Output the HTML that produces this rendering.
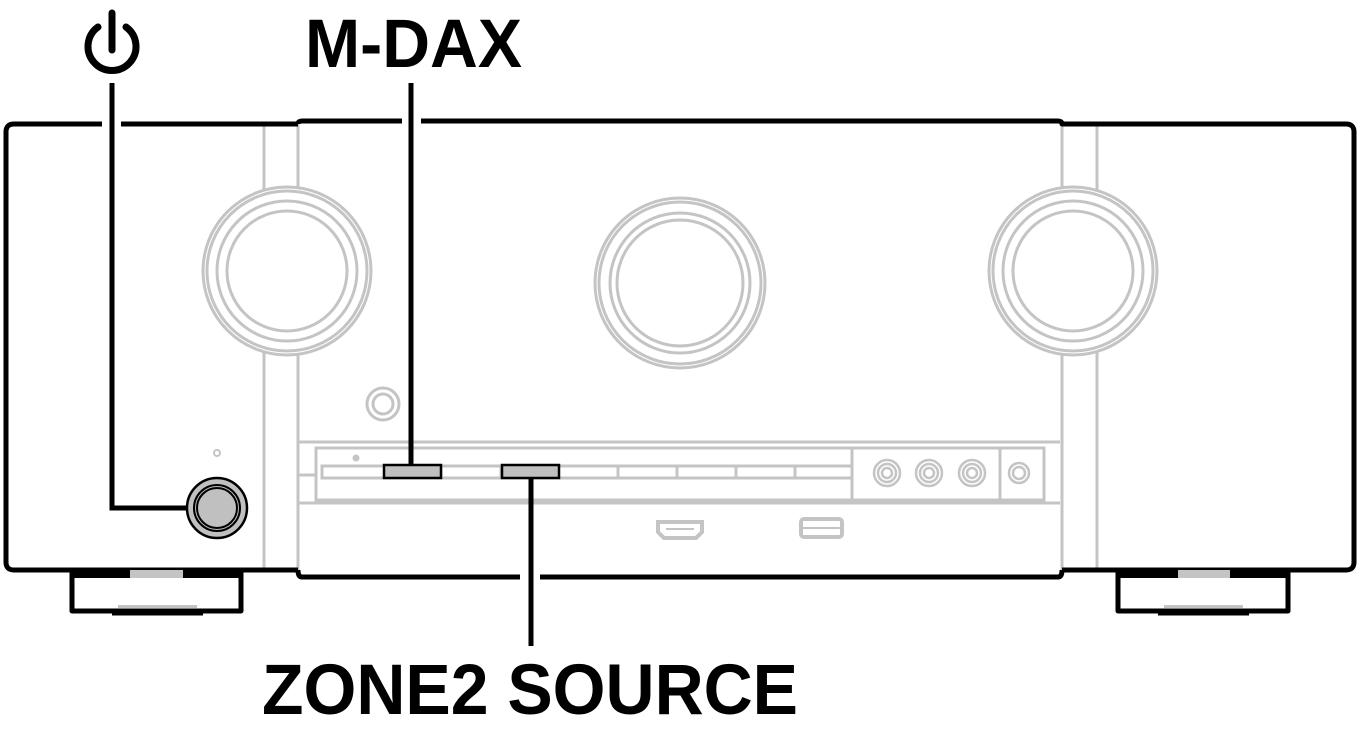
<!DOCTYPE html>
<html><head><meta charset="utf-8"><style>html,body{margin:0;padding:0;background:#fff;}svg{display:block;}</style></head>
<body>
<svg width="1360" height="754" viewBox="0 0 1360 754" xmlns="http://www.w3.org/2000/svg">
<g fill="none" stroke="#c4c4c4" stroke-width="3">
  <line x1="264" y1="124" x2="264" y2="570"/>
  <line x1="298" y1="124" x2="298" y2="570"/>
  <line x1="1062" y1="124" x2="1062" y2="570"/>
  <line x1="1097" y1="124" x2="1097" y2="570"/>
  <g fill="#fff">
  <circle cx="287" cy="271" r="84"/><circle cx="287" cy="271" r="80"/><circle cx="287" cy="271" r="70"/><circle cx="287" cy="271" r="60"/>
  <circle cx="680" cy="283" r="85"/><circle cx="680" cy="283" r="81"/><circle cx="680" cy="283" r="70"/><circle cx="680" cy="283" r="63"/>
  <circle cx="1073" cy="271" r="84"/><circle cx="1073" cy="271" r="80"/><circle cx="1073" cy="271" r="70"/><circle cx="1073" cy="271" r="60"/>
  </g>
  <circle cx="383" cy="404" r="16"/><circle cx="383" cy="404" r="10"/>
  <circle cx="217" cy="453" r="3" stroke-width="2"/>
  <line x1="298" y1="442" x2="1060" y2="442"/>
  <line x1="298" y1="503" x2="1060" y2="503"/>
  <rect x="316" y="448" width="728" height="52"/>
  <line x1="298" y1="475" x2="316" y2="475"/>
  <rect x="322" y="466" width="530" height="12"/>
  <line x1="852" y1="448" x2="852" y2="500"/>
  <line x1="1000" y1="448" x2="1000" y2="500"/>
  <line x1="441" y1="466" x2="441" y2="478"/><line x1="501" y1="466" x2="501" y2="478"/>
  <line x1="618" y1="466" x2="618" y2="478"/><line x1="677" y1="466" x2="677" y2="478"/>
  <line x1="736" y1="466" x2="736" y2="478"/><line x1="795" y1="466" x2="795" y2="478"/>
  <circle cx="356" cy="458" r="2" fill="#c4c4c4"/>
  <g stroke-width="2.5">
  <circle cx="887" cy="473" r="13"/><circle cx="887" cy="473" r="9"/><circle cx="887" cy="473" r="5"/>
  <circle cx="929" cy="473" r="13"/><circle cx="929" cy="473" r="9"/><circle cx="929" cy="473" r="5"/>
  <circle cx="972" cy="473" r="13"/><circle cx="972" cy="473" r="9"/><circle cx="972" cy="473" r="5"/>
  <circle cx="1019" cy="473" r="10"/><circle cx="1019" cy="473" r="6"/>
  </g>
  <path d="M658 522 H702 V532 L696 538 H664 L658 532 Z" stroke-width="4"/>
  <line x1="666" y1="529" x2="694" y2="529" stroke-width="2"/>
  <rect x="801" y="519" width="41" height="18" rx="3" stroke-width="4"/>
  <line x1="803" y1="528" x2="840" y2="528" stroke-width="2"/>
</g>
<g fill="none" stroke="#000" stroke-width="5" stroke-linejoin="round">
  <path d="M102 124 H14 Q6 124 6 132 V562 Q6 570 14 570 H298"/>
  <line x1="121" y1="124" x2="298" y2="124"/>
  <path d="M298 124 Q298 121 302 121 H402"/>
  <line x1="421" y1="121" x2="1058" y2="121"/>
  <path d="M1058 121 Q1062 121 1062 124 H1346 Q1354 124 1354 132 V562 Q1354 570 1346 570 H1062"/>
  <path d="M298 570 Q298 577 302 577 H520"/>
  <path d="M540 577 H1058 Q1062 577 1062 570"/>
  <path d="M72 572 V611 H241 V572"/>
  <path d="M112 613 H203"/>
  <path d="M1118 572 V611 H1288 V572"/>
  <path d="M1158 613 H1249"/>
</g>
<g fill="#000">
  <rect x="70" y="568" width="60" height="10"/><rect x="183" y="568" width="60" height="10"/>
  <rect x="1116" y="568" width="62" height="10"/><rect x="1230" y="568" width="60" height="10"/>
</g>
<rect x="130" y="570" width="53" height="8" fill="#c4c4c4"/>
<rect x="1178" y="570" width="52" height="8" fill="#c4c4c4"/>
<rect x="118" y="605" width="79" height="3" fill="#c4c4c4"/>
<rect x="1164" y="605" width="79" height="3" fill="#c4c4c4"/>
<rect x="384" y="465" width="57" height="13" fill="#c0c0c0" stroke="#000" stroke-width="2.5"/>
<rect x="502" y="465" width="57" height="13" fill="#c0c0c0" stroke="#000" stroke-width="2.5"/>
<circle cx="217" cy="508" r="30" fill="#c0c0c0" stroke="#000" stroke-width="2.5"/>
<circle cx="217" cy="508" r="23" fill="none" stroke="#000" stroke-width="2"/>
<circle cx="217" cy="508" r="20" fill="none" stroke="#000" stroke-width="2"/>
<g stroke="#000" stroke-width="5" fill="none">
  <path d="M112 83 V508 H187"/>
  <line x1="411" y1="83" x2="411" y2="465"/>
  <line x1="531" y1="479" x2="531" y2="646"/>
</g>
<g stroke="#000" stroke-width="7" fill="none" stroke-linecap="round">
  <line x1="112" y1="13" x2="112" y2="50"/>
  <path d="M98 27 A24 24 0 1 0 126 27"/>
</g>
<text x="305" y="67" font-family="Liberation Sans, sans-serif" font-weight="bold" font-size="69" textLength="217" lengthAdjust="spacingAndGlyphs">M-DAX</text>
<text x="262" y="714" font-family="Liberation Sans, sans-serif" font-weight="bold" font-size="71" textLength="536" lengthAdjust="spacingAndGlyphs">ZONE2 SOURCE</text>
</svg>
</body></html>
